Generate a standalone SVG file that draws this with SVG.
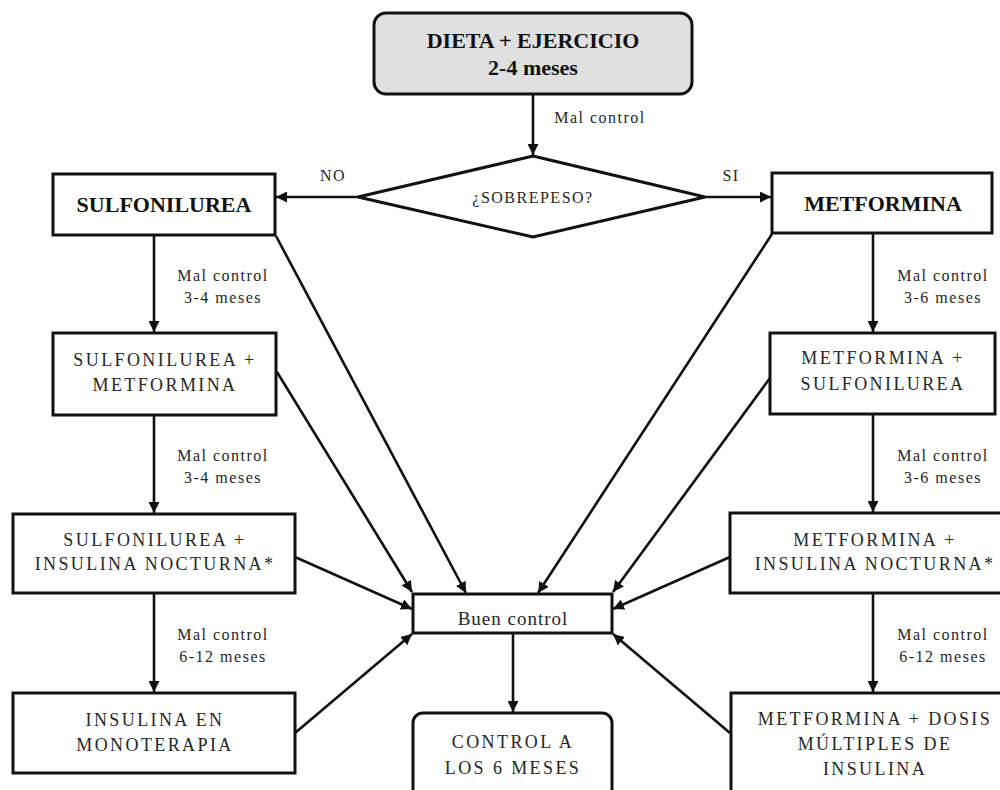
<svg xmlns="http://www.w3.org/2000/svg" width="1000" height="790" viewBox="0 0 1000 790">
<style>
.box{fill:#fff;stroke:#111;stroke-width:3}
.start{fill:#e0e0e0;stroke:#111;stroke-width:3}
.conn{stroke:#111;stroke-width:2.6;fill:none}
.t{font-family:"Liberation Serif","Times New Roman",serif;fill:#262626;text-anchor:middle}
.b{font-weight:bold;fill:#111;font-size:22px}
.r{font-size:18px;letter-spacing:2.4px}
.s{font-size:16px;letter-spacing:1.5px}
</style>
<defs>
<marker id="ah" viewBox="0 0 10 10" refX="10" refY="5" markerWidth="11" markerHeight="11" markerUnits="userSpaceOnUse" orient="auto">
<path d="M0,0 L10,5 L0,10 z" fill="#111"/>
</marker>
</defs>
<rect width="1000" height="790" fill="#fff"/>
<g id="connectors" class="conn" marker-end="url(#ah)">
<line x1="533" y1="95" x2="533" y2="155"/>
<line x1="358" y1="197" x2="276" y2="197"/>
<line x1="705" y1="197" x2="771" y2="197"/>
<line x1="154" y1="235" x2="154" y2="332"/>
<line x1="154" y1="415" x2="154" y2="513"/>
<line x1="154" y1="593" x2="154" y2="692"/>
<line x1="873" y1="233" x2="873" y2="332"/>
<line x1="873" y1="414" x2="873" y2="512"/>
<line x1="873" y1="593" x2="873" y2="692"/>
<line x1="276" y1="236" x2="466" y2="593"/>
<line x1="277" y1="372" x2="412" y2="592"/>
<line x1="295" y1="557" x2="412" y2="609"/>
<line x1="295" y1="733" x2="412" y2="634"/>
<line x1="772" y1="234" x2="538" y2="593"/>
<line x1="770" y1="378" x2="613" y2="592"/>
<line x1="730" y1="557" x2="613" y2="609"/>
<line x1="730" y1="733" x2="613" y2="634"/>
<line x1="513" y1="633" x2="513" y2="712"/>
</g>
<g id="labels" class="t s">
<text x="600" y="123">Mal control</text>
<text x="333" y="181">NO</text>
<text x="731" y="181">SI</text>
<text x="223" y="281">Mal control</text>
<text x="223" y="303">3-4 meses</text>
<text x="223" y="461">Mal control</text>
<text x="223" y="483">3-4 meses</text>
<text x="223" y="640">Mal control</text>
<text x="223" y="662">6-12 meses</text>
<text x="943" y="281">Mal control</text>
<text x="943" y="303">3-6 meses</text>
<text x="943" y="461">Mal control</text>
<text x="943" y="483">3-6 meses</text>
<text x="943" y="640">Mal control</text>
<text x="943" y="662">6-12 meses</text>
</g>
<g id="n-dieta">
<rect class="start" x="374" y="13" width="318" height="81" rx="12"/>
<text class="t b" x="533" y="48">DIETA + EJERCICIO</text>
<text class="t b" x="533" y="75">2-4 meses</text>
</g>
<g id="n-sobrepeso">
<polygon class="box" points="533,156 705,197 533,237 358,197"/>
<text class="t s" x="533" y="203">¿SOBREPESO?</text>
</g>
<g id="n-sulf">
<rect class="box" x="53" y="174" width="222" height="61"/>
<text class="t b" x="164" y="212">SULFONILUREA</text>
</g>
<g id="n-metf">
<rect class="box" x="772" y="173" width="220" height="60"/>
<text class="t b" x="883" y="211">METFORMINA</text>
</g>
<g id="n-sulf-metf">
<rect class="box" x="53" y="333" width="223" height="82"/>
<text class="t r" x="165" y="366">SULFONILUREA +</text>
<text class="t r" x="165" y="391">METFORMINA</text>
</g>
<g id="n-sulf-ins">
<rect class="box" x="13" y="514" width="282" height="79"/>
<text class="t r" x="155" y="546">SULFONILUREA +</text>
<text class="t r" x="155" y="570">INSULINA NOCTURNA*</text>
</g>
<g id="n-ins-mono">
<rect class="box" x="13" y="693" width="282" height="80"/>
<text class="t r" x="155" y="726">INSULINA EN</text>
<text class="t r" x="155" y="751">MONOTERAPIA</text>
</g>
<g id="n-metf-sulf">
<rect class="box" x="770" y="333" width="225" height="81"/>
<text class="t r" x="883" y="364">METFORMINA +</text>
<text class="t r" x="883" y="390">SULFONILUREA</text>
</g>
<g id="n-metf-ins">
<rect class="box" x="730" y="513" width="290" height="80"/>
<text class="t r" x="875" y="546">METFORMINA +</text>
<text class="t r" x="875" y="570">INSULINA NOCTURNA*</text>
</g>
<g id="n-metf-dosis">
<rect class="box" x="731" y="693" width="290" height="110"/>
<text class="t r" x="875" y="725">METFORMINA + DOSIS</text>
<text class="t r" x="875" y="750">MÚLTIPLES DE</text>
<text class="t r" x="875" y="775">INSULINA</text>
</g>
<g id="n-buen">
<rect class="box" x="413" y="594" width="199" height="39"/>
<text class="t" x="513" y="625" style="font-size:19px;letter-spacing:1px">Buen control</text>
</g>
<g id="n-control6">
<rect class="box" x="413" y="713" width="199" height="95" rx="10"/>
<text class="t r" x="513" y="748">CONTROL A</text>
<text class="t r" x="513" y="774">LOS 6 MESES</text>
</g>
</svg>
